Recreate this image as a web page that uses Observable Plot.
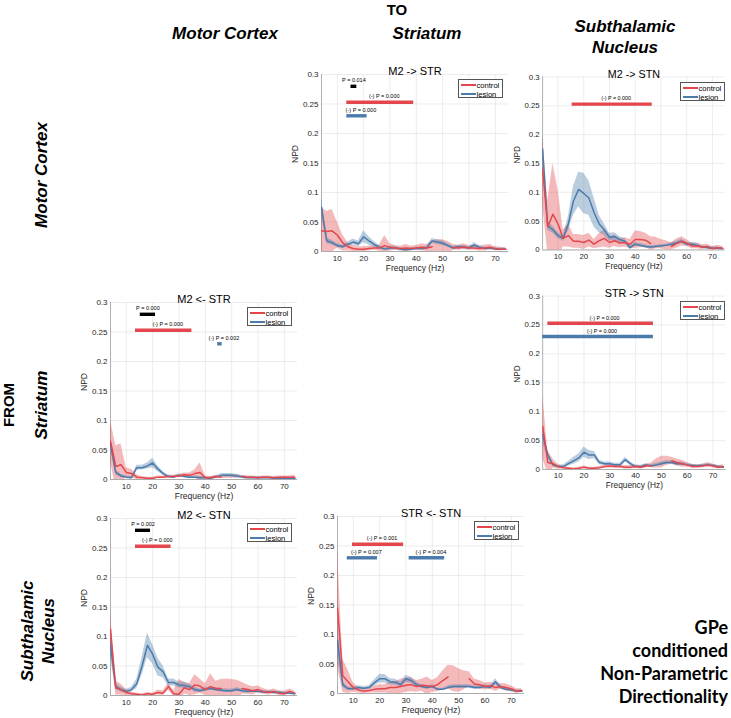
<!DOCTYPE html>
<html><head><meta charset="utf-8">
<script src="https://cdn.jsdelivr.net/npm/d3@7"></script>
<script src="https://cdn.jsdelivr.net/npm/@observablehq/plot@0.6"></script>
<style>
html,body{margin:0;padding:0;background:#fff;}
#page{position:relative;width:731px;height:718px;overflow:hidden;font-family:"Liberation Sans",Arial,sans-serif;background:#fff;}
.hdr{position:absolute;font-weight:bold;font-style:italic;font-size:17px;color:#000;white-space:nowrap;text-align:center;line-height:21px;transform:translate(-50%,-50%);}
.vert{transform:translate(-50%,-50%) rotate(-90deg);}
.plain{font-style:normal;font-size:15px;}
.panel{position:absolute;}
.legend{position:absolute;width:45px;height:19px;box-sizing:border-box;border:0.7px solid #555;background:#fff;font-size:7.6px;color:#000;font-family:"Liberation Sans",Arial,sans-serif;padding-top:0.5px;}
.legend .row{height:9px;line-height:9px;display:flex;align-items:center;}
.legend .sw{display:inline-block;width:15px;height:2px;margin:0 1px 0 1.5px;}
.note{position:absolute;right:3px;font-family:Lato,"Open Sans",sans-serif;font-weight:bold;font-size:18px;color:#000;text-align:right;line-height:23px;}
</style>
</head><body>
<div id="page"></div>
<script>
// ---------- data ----------
const freqs = [4,6,8,10,12,14,16,18,20,22,24,26,28,30,32,34,36,38,40,42,44,46,48,50,52,54,56,58,60,62,64,66,68,70,72,74];
const lineNoiseGap = [48,50,52]; // control mean line not drawn here
const xTicks = [10,20,30,40,50,60,70];
const yTicks = [0,0.05,0.1,0.15,0.2,0.25,0.3];
const groups = ["pair","control","lesion"];
const seriesNames = ["control","lesion"];

// M2 -> STR
const m2ToStrCtrl    = [0.035,0.034,0.035,0.028,0.015,0.008,0.005,0.004,0.004,0.005,0.006,0.006,0.010,0.007,0.006,0.005,0.006,0.005,0.006,0.007,0.006,0.008,0.008,0.008,0.007,0.007,0.006,0.008,0.006,0.006,0.005,0.006,0.007,0.005,0.004,0.004];
const m2ToStrCtrlErr = [0.040,0.034,0.036,0.022,0.014,0.007,0.005,0.004,0.004,0.004,0.004,0.005,0.017,0.006,0.004,0.004,0.006,0.004,0.004,0.006,0.006,0.010,0.012,0.012,0.010,0.005,0.004,0.005,0.004,0.004,0.004,0.005,0.005,0.003,0.003,0.002];
const m2ToStrLes     = [0.075,0.018,0.015,0.010,0.008,0.012,0.016,0.013,0.025,0.018,0.012,0.007,0.004,0.006,0.006,0.004,0.003,0.004,0.005,0.005,0.006,0.018,0.016,0.014,0.010,0.006,0.008,0.007,0.006,0.011,0.007,0.005,0.006,0.004,0.004,0.004];
const m2ToStrLesErr  = [0.015,0.005,0.004,0.003,0.003,0.004,0.005,0.005,0.010,0.007,0.005,0.003,0.002,0.003,0.003,0.002,0.002,0.002,0.002,0.002,0.003,0.004,0.004,0.004,0.003,0.003,0.003,0.003,0.002,0.004,0.003,0.002,0.002,0.002,0.002,0.002];
const m2ToStrSig = [
  {group:"pair", x1:15.2, x2:17.4, label:"P = 0.014"},
  {group:"control", x1:13.6, x2:39.0, label:"(-) P = 0.000"},
  {group:"lesion", x1:13.6, x2:21.3, label:"(-) P = 0.000"}
];

// M2 -> STN
const m2ToStnCtrl    = [0.140,0.040,0.062,0.045,0.020,0.025,0.015,0.015,0.013,0.017,0.010,0.016,0.020,0.013,0.016,0.012,0.013,0.010,0.018,0.018,0.017,0.011,0.012,0.010,0.008,0.006,0.011,0.015,0.012,0.007,0.007,0.005,0.006,0.002,0.004,0.003];
const m2ToStnCtrlErr = [0.060,0.045,0.088,0.060,0.015,0.020,0.012,0.012,0.012,0.012,0.008,0.012,0.015,0.010,0.010,0.008,0.008,0.008,0.015,0.014,0.012,0.012,0.010,0.008,0.008,0.006,0.008,0.008,0.006,0.005,0.005,0.004,0.004,0.004,0.004,0.003];
const m2ToStnLes     = [0.175,0.042,0.035,0.025,0.020,0.045,0.085,0.105,0.098,0.090,0.065,0.045,0.035,0.022,0.023,0.018,0.015,0.004,0.010,0.008,0.006,0.005,0.006,0.007,0.008,0.010,0.012,0.015,0.010,0.010,0.008,0.005,0.004,0.003,0.003,0.002];
const m2ToStnLesErr  = [0.025,0.008,0.006,0.005,0.005,0.012,0.025,0.030,0.035,0.030,0.025,0.015,0.010,0.007,0.007,0.005,0.004,0.003,0.003,0.003,0.003,0.002,0.002,0.002,0.002,0.003,0.003,0.004,0.003,0.003,0.003,0.002,0.002,0.002,0.002,0.002];
const m2ToStnSig = [
  {group:"control", x1:15.5, x2:46.6, label:"(-) P = 0.000"}
];

// M2 <- STR
const strToM2Ctrl    = [0.065,0.022,0.025,0.012,0.010,0.004,0.003,0.002,0.002,0.004,0.004,0.005,0.005,0.006,0.008,0.007,0.010,0.012,0.003,0.003,0.005,0.004,0.005,0.005,0.005,0.005,0.004,0.004,0.003,0.004,0.004,0.003,0.004,0.004,0.004,0.004];
const strToM2CtrlErr = [0.035,0.035,0.035,0.008,0.007,0.004,0.002,0.002,0.002,0.002,0.002,0.002,0.002,0.003,0.003,0.004,0.006,0.016,0.003,0.002,0.002,0.002,0.003,0.003,0.003,0.002,0.002,0.002,0.002,0.002,0.002,0.002,0.002,0.002,0.002,0.003];
const strToM2Les     = [0.060,0.012,0.006,0.004,0.003,0.020,0.020,0.023,0.028,0.018,0.010,0.005,0.004,0.007,0.005,0.004,0.004,0.003,0.003,0.002,0.004,0.007,0.007,0.007,0.006,0.004,0.003,0.003,0.003,0.003,0.003,0.002,0.002,0.002,0.002,0.002];
const strToM2LesErr  = [0.010,0.004,0.003,0.002,0.002,0.004,0.004,0.005,0.008,0.005,0.003,0.002,0.002,0.002,0.002,0.002,0.002,0.002,0.002,0.002,0.002,0.003,0.003,0.003,0.003,0.002,0.002,0.002,0.002,0.002,0.002,0.002,0.002,0.002,0.002,0.002];
const strToM2Sig = [
  {group:"pair", x1:15.3, x2:21.1, label:"P = 0.000"},
  {group:"control", x1:13.5, x2:34.9, label:"(-) P = 0.000"},
  {group:"lesion", x1:44.7, x2:46.4, label:"(-) P = 0.002"}
];

// STR -> STN
const strToStnCtrl    = [0.075,0.012,0.010,0.005,0.003,0.002,0.001,0.002,0.004,0.002,0.002,0.003,0.005,0.006,0.005,0.005,0.004,0.004,0.005,0.004,0.006,0.007,0.010,0.013,0.015,0.015,0.012,0.010,0.008,0.005,0.005,0.006,0.008,0.006,0.004,0.005];
const strToStnCtrlErr = [0.055,0.020,0.008,0.004,0.002,0.002,0.002,0.002,0.002,0.002,0.002,0.002,0.003,0.003,0.003,0.003,0.003,0.003,0.003,0.003,0.003,0.004,0.008,0.010,0.008,0.006,0.006,0.006,0.004,0.003,0.003,0.003,0.004,0.003,0.003,0.003];
const strToStnLes     = [0.060,0.025,0.008,0.005,0.005,0.010,0.015,0.020,0.030,0.025,0.025,0.012,0.010,0.010,0.008,0.008,0.017,0.010,0.005,0.005,0.008,0.006,0.008,0.010,0.012,0.012,0.010,0.010,0.008,0.007,0.006,0.007,0.008,0.007,0.005,0.004];
const strToStnLesErr  = [0.015,0.006,0.003,0.002,0.003,0.004,0.006,0.007,0.009,0.008,0.006,0.004,0.003,0.003,0.003,0.003,0.004,0.003,0.002,0.002,0.002,0.002,0.003,0.003,0.003,0.003,0.003,0.003,0.002,0.002,0.002,0.002,0.002,0.002,0.002,0.002];
const strToStnSig = [
  {group:"control", x1:6.0, x2:46.9, label:"(-) P = 0.000"},
  {group:"lesion", x1:4.0, x2:46.9, label:"(-) P = 0.000"}
];

// M2 <- STN
const stnToM2Ctrl    = [0.112,0.013,0.010,0.005,0.003,0.002,0.001,0.003,0.002,0.005,0.004,0.015,0.003,0.002,0.013,0.010,0.018,0.016,0.010,0.015,0.012,0.012,0.011,0.010,0.010,0.012,0.010,0.008,0.010,0.007,0.005,0.007,0.004,0.003,0.007,0.004];
const stnToM2CtrlErr = [0.030,0.012,0.009,0.005,0.003,0.002,0.002,0.002,0.002,0.004,0.004,0.006,0.005,0.025,0.010,0.010,0.017,0.012,0.010,0.022,0.012,0.015,0.017,0.017,0.016,0.010,0.008,0.007,0.006,0.005,0.004,0.004,0.004,0.004,0.004,0.003];
const stnToM2Les     = [0.085,0.015,0.010,0.007,0.010,0.020,0.050,0.085,0.070,0.048,0.040,0.022,0.022,0.018,0.017,0.015,0.010,0.008,0.010,0.012,0.010,0.009,0.008,0.008,0.010,0.008,0.007,0.007,0.007,0.006,0.006,0.005,0.005,0.004,0.004,0.003];
const stnToM2LesErr  = [0.020,0.005,0.004,0.003,0.004,0.008,0.015,0.021,0.016,0.015,0.010,0.006,0.006,0.005,0.005,0.004,0.004,0.003,0.003,0.003,0.003,0.003,0.003,0.003,0.003,0.003,0.003,0.002,0.002,0.002,0.002,0.002,0.002,0.002,0.002,0.002];
const stnToM2Sig = [
  {group:"pair", x1:13.5, x2:19.2, label:"P = 0.002"},
  {group:"control", x1:13.5, x2:27.0, label:"(-) P = 0.000"}
];

// STR <- STN
const stnToStrCtrl    = [0.145,0.030,0.020,0.010,0.006,0.004,0.005,0.007,0.008,0.008,0.010,0.010,0.012,0.014,0.015,0.012,0.014,0.013,0.012,0.015,0.022,0.028,0.025,0.022,0.022,0.025,0.016,0.015,0.012,0.013,0.010,0.012,0.010,0.008,0.004,0.005];
const stnToStrCtrlErr = [0.100,0.028,0.020,0.008,0.005,0.004,0.004,0.006,0.007,0.007,0.010,0.010,0.012,0.012,0.012,0.010,0.010,0.015,0.010,0.012,0.016,0.020,0.022,0.020,0.016,0.012,0.008,0.007,0.006,0.006,0.006,0.005,0.006,0.005,0.004,0.003];
const stnToStrLes     = [0.090,0.015,0.008,0.008,0.010,0.009,0.010,0.018,0.025,0.025,0.020,0.019,0.015,0.025,0.022,0.015,0.012,0.010,0.012,0.007,0.007,0.010,0.012,0.012,0.012,0.012,0.010,0.010,0.012,0.010,0.020,0.010,0.007,0.006,0.004,0.004];
const stnToStrLesErr  = [0.030,0.005,0.003,0.003,0.003,0.003,0.003,0.005,0.007,0.007,0.005,0.005,0.004,0.006,0.005,0.004,0.003,0.003,0.003,0.002,0.002,0.003,0.003,0.003,0.003,0.003,0.003,0.003,0.003,0.003,0.005,0.003,0.002,0.002,0.002,0.002];
const stnToStrSig = [
  {group:"control", x1:9.7, x2:29.1, label:"(-) P = 0.001"},
  {group:"lesion", x1:7.7, x2:19.2, label:"(-) P = 0.007"},
  {group:"lesion", x1:31.2, x2:44.7, label:"(-) P = 0.004"}
];

// ---------- styling / layout ----------
const RED = "#e3474d", BLUE = "#4a7bab", BLACK = "#000";
const groupColors = [BLACK, RED, BLUE];
const sigLevel = {pair:0.28, control:0.253, lesion:0.23};
const PW = 187, PH = 177, ML = 40, MR = 6, MT = 22, MB = 30;

const panels = [
  {title:"M2 -> STR", left:320.7, top:74,    ctrl:m2ToStrCtrl, ctrlErr:m2ToStrCtrlErr, les:m2ToStrLes, lesErr:m2ToStrLesErr, sig:m2ToStrSig},
  {title:"M2 -> STN", left:543.3, top:77,    ctrl:m2ToStnCtrl, ctrlErr:m2ToStnCtrlErr, les:m2ToStnLes, lesErr:m2ToStnLesErr, sig:m2ToStnSig},
  {title:"M2 <- STR", left:110,   top:302.3, ctrl:strToM2Ctrl, ctrlErr:strToM2CtrlErr, les:strToM2Les, lesErr:strToM2LesErr, sig:strToM2Sig},
  {title:"STR -> STN", left:542.7, top:296,  ctrl:strToStnCtrl, ctrlErr:strToStnCtrlErr, les:strToStnLes, lesErr:strToStnLesErr, sig:strToStnSig},
  {title:"M2 <- STN", left:110,   top:518.3, ctrl:stnToM2Ctrl, ctrlErr:stnToM2CtrlErr, les:stnToM2Les, lesErr:stnToM2LesErr, sig:stnToM2Sig},
  {title:"STR <- STN", left:336.7, top:515.7, ctrl:stnToStrCtrl, ctrlErr:stnToStrCtrlErr, les:stnToStrLes, lesErr:stnToStrLesErr, sig:stnToStrSig}
];

const page = document.getElementById("page");

function makePanel(p) {
  const ctrlRows = freqs.map((f, i) => ({f, y: p.ctrl[i], e: p.ctrlErr[i], gap: lineNoiseGap.includes(f)}));
  const lesRows = freqs.map((f, i) => ({f, y: p.les[i], e: p.lesErr[i]}));
  const pairSig = p.sig.filter(d => d.group === "pair");
  const groupSig = p.sig.filter(d => d.group !== "pair");
  const mid = d => (d.x1 + d.x2) / 2;
  const lvl = d => sigLevel[d.group];
  const chart = Plot.plot({
    width: ML + PW + MR, height: MT + PH + MB,
    marginLeft: ML, marginRight: MR, marginTop: MT, marginBottom: MB,
    style: {background: "transparent", overflow: "visible", fontFamily: "'Liberation Sans', Arial, sans-serif", color: "#262626"},
    x: {domain: [4, 75]},
    y: {domain: [0, 0.3]},
    color: {domain: groups, range: groupColors},
    marks: [
      Plot.gridX(xTicks, {stroke: "#e4e4e4", strokeOpacity: 1, strokeWidth: 0.7}),
      Plot.gridY(yTicks, {stroke: "#e4e4e4", strokeOpacity: 1, strokeWidth: 0.7}),
      Plot.axisX(xTicks, {tickSize: 0, tickPadding: 3.5, fontSize: 8, label: null, fill: "#262626"}),
      Plot.axisY(yTicks, {tickSize: 0, tickPadding: 3, fontSize: 8, label: null, tickFormat: d => String(d), fill: "#262626"}),
      Plot.ruleX([4], {stroke: "#9a9a9a", strokeWidth: 0.8}),
      Plot.ruleY([0], {stroke: "#9a9a9a", strokeWidth: 0.8}),
      Plot.areaY(ctrlRows, {x: "f", y1: d => d.y - d.e, y2: d => d.y + d.e, fill: RED, fillOpacity: 0.38, clip: true}),
      Plot.areaY(lesRows, {x: "f", y1: d => d.y - d.e, y2: d => d.y + d.e, fill: BLUE, fillOpacity: 0.38, clip: true}),
      Plot.line(lesRows, {x: "f", y: "y", stroke: BLUE, strokeWidth: 1.5, clip: true}),
      Plot.line(ctrlRows, {x: "f", y: d => d.gap ? NaN : d.y, stroke: RED, strokeWidth: 1.5, clip: true}),
      Plot.ruleY(p.sig, {x1: "x1", x2: "x2", y: lvl, stroke: "group", strokeWidth: 3.4}),
      Plot.text(pairSig, {x: mid, y: lvl, text: "label", fontSize: 5.5, dy: -6.5, fill: "#000"}),
      Plot.text(groupSig, {x: mid, y: lvl, text: "label", fontSize: 5.5, dy: -5.5, dx: 4, fill: "#000"}),
      Plot.text([p.title], {frameAnchor: "top", dy: -7, fontSize: 11, fill: "#000"}),
      Plot.text(["NPD"], {frameAnchor: "left", dx: -26, rotate: -90, fontSize: 8.5, fill: "#262626"}),
      Plot.text(["Frequency (Hz)"], {frameAnchor: "bottom", dy: 19, fontSize: 8.5, fill: "#262626"})
    ]
  });
  const wrap = document.createElement("div");
  wrap.className = "panel";
  wrap.style.left = (p.left - ML) + "px";
  wrap.style.top = (p.top - MT) + "px";
  wrap.appendChild(chart);
  page.appendChild(wrap);

  // legend
  const lg = document.createElement("div");
  lg.className = "legend";
  lg.style.left = Math.round(p.left + PW - 5 - 45) + "px";
  lg.style.top = Math.round(p.top + 4.8) + "px";
  seriesNames.forEach((name, i) => {
    const row = document.createElement("div");
    row.className = "row";
    const sw = document.createElement("span");
    sw.className = "sw";
    sw.style.background = i === 0 ? RED : BLUE;
    row.appendChild(sw);
    row.appendChild(document.createTextNode(name));
    lg.appendChild(row);
  });
  page.appendChild(lg);
}
panels.forEach(makePanel);

// headers
function addText(html, x, y, cls) {
  const d = document.createElement("div");
  d.className = "hdr " + (cls || "");
  d.style.left = x + "px";
  d.style.top = y + "px";
  d.innerHTML = html;
  page.appendChild(d);
}
addText("TO", 397, 9, "plain");
addText("Motor Cortex", 225, 33);
addText("Striatum", 427, 33);
addText("Subthalamic<br>Nucleus", 625, 37);
addText("FROM", 8, 405, "vert plain");
addText("Motor Cortex", 41, 175, "vert");
addText("Striatum", 41, 405, "vert");
addText("Subthalamic<br>Nucleus", 38, 631, "vert");

const note = document.createElement("div");
note.className = "note";
note.style.top = "616px";
note.innerHTML = "GPe<br>conditioned<br>Non-Parametric<br>Directionality";
page.appendChild(note);
</script>
</body></html>
